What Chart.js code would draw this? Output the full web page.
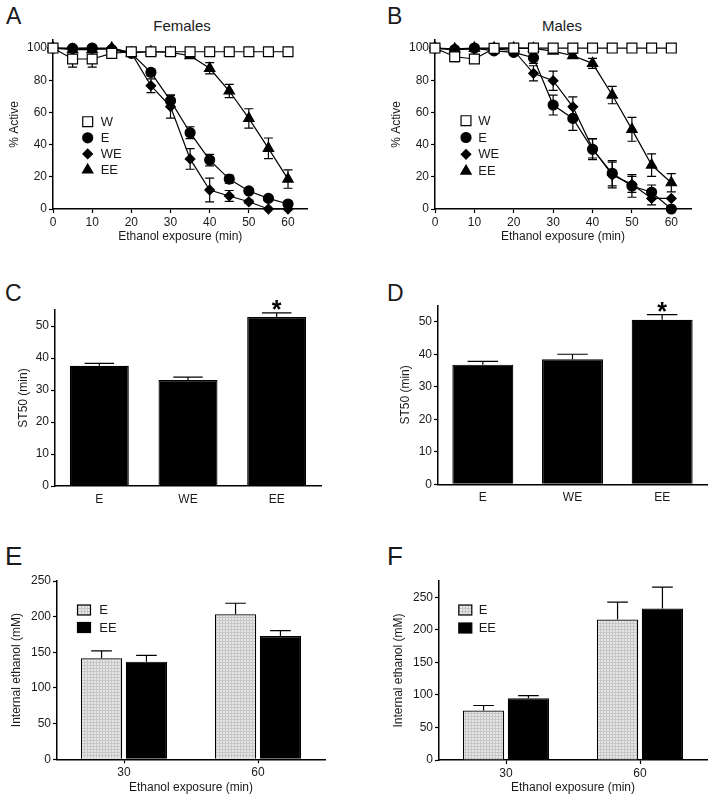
<!DOCTYPE html>
<html>
<head>
<meta charset="utf-8">
<script src="https://cdn.jsdelivr.net/npm/chart.js@4.4.1/dist/chart.umd.min.js"></script>
<style>
  body { margin: 0; background: #fff; width: 714px; height: 802px; position: relative; overflow: hidden;
         font-family: "Liberation Sans", Arial, sans-serif; color: #1a1a1a; }
  canvas { position: absolute; }
  .letter { position: absolute; font-size: 23px; line-height: 1; }
  .big { font-size: 26px; }
  .title { position: absolute; font-size: 15px; line-height: 1; width: 120px; text-align: center; }
</style>
</head>
<body>
<div class="letter" style="left:6px;top:5px">A</div>
<div class="letter" style="left:387px;top:5px">B</div>
<div class="letter" style="left:5px;top:282px">C</div>
<div class="letter" style="left:387px;top:282px">D</div>
<div class="letter big" style="left:5px;top:543px">E</div>
<div class="letter big" style="left:387px;top:543px">F</div>
<div class="title" style="left:122px;top:18px">Females</div>
<div class="title" style="left:502px;top:18px">Males</div>

<canvas id="chartA" width="357" height="265" style="left:0;top:0"></canvas>
<canvas id="chartB" width="357" height="265" style="left:357px;top:0"></canvas>
<canvas id="chartC" width="357" height="260" style="left:0;top:270px"></canvas>
<canvas id="chartD" width="357" height="260" style="left:357px;top:270px"></canvas>
<canvas id="chartE" width="357" height="272" style="left:0;top:530px"></canvas>
<canvas id="chartF" width="357" height="272" style="left:357px;top:530px"></canvas>

<script>
// time points (min)
const timePoints = [0, 5, 10, 15, 20, 25, 30, 35, 40, 45, 50, 55, 60];
const groupNames = ['W', 'E', 'WE', 'EE'];

// % active, females
const femaleW    = [100, 93.2, 93.2, 96.7, 97.7, 97.7, 97.7, 97.7, 97.7, 97.7, 97.7, 97.7, 97.7];
const femaleWErr = [0, 5, 5, 1, 0, 0, 0, 0, 0, 0, 0, 0, 0];
const femaleE    = [100, 99.8, 100, 99, 96.7, 84.9, 67.3, 47.4, 30.4, 18.6, 11.2, 6.6, 3.1];
const femaleEErr = [0, 0, 0, 1, 1, 2, 3.5, 3.7, 3.6, 2.5, 1.5, 1, 1];
const femaleWE   = [100, 99.8, 100, 100, 97, 76.6, 63.6, 31.1, 11.8, 8.1, 4.5, 0, 0];
const femaleWEErr= [0, 0, 0, 0, 1, 4.3, 7.2, 6.4, 7.4, 3.4, 1, 0, 0];
const femaleEE   = [100, 99, 99, 100, 97, 97.7, 97.3, 95.2, 87.4, 73.3, 56.3, 37.7, 18.6];
const femaleEEErr= [0, 0, 0, 0, 0, 0, 1, 1.5, 3.5, 4.1, 6, 6.4, 5.7];

// % active, males
const maleW     = [100, 94.6, 93.2, 99.8, 100, 100, 100, 100, 100, 100, 100, 100, 100];
const maleWErr  = [0, 3, 1, 0, 0, 0, 0, 0, 0, 0, 0, 0, 0];
const maleE     = [100, 99, 100, 98.3, 97.3, 94, 64.6, 56.3, 37.1, 22.2, 14.3, 10.4, 0];
const maleEErr  = [0, 0, 0, 1, 1, 3.5, 6.2, 7.5, 6.4, 7.8, 7, 4.5, 0];
const maleWE    = [100, 99, 99.5, 99.5, 98.5, 84.3, 79.7, 63.5, 37.7, 21.1, 15.3, 6.6, 6.6];
const maleWEErr = [0, 0, 0, 0, 1, 4.7, 6, 6.2, 6, 8, 5, 4, 0];
const maleEE    = [100, 99.5, 100, 100, 100, 99.8, 98.1, 95.2, 90.5, 70.8, 49.5, 27.3, 16.3];
const maleEEErr = [0, 0, 0, 0, 0, 0, 1, 1.5, 3.1, 5.4, 7.4, 7, 5.7];

// ST50 (min)
const st50Groups     = ['E', 'WE', 'EE'];
const st50Female     = [37.6, 33.1, 52.8];
const st50FemaleErr  = [0.7, 0.9, 1.3];
const st50Male       = [36.8, 38.5, 50.6];
const st50MaleErr    = [1.0, 1.5, 1.6];
const st50Signif     = ['', '', '*'];

// internal ethanol (mM)
const exposureTimes      = ['30', '60'];
const ethFemaleE         = [141.6, 203.4];
const ethFemaleEErr      = [10.3, 15.4];
const ethFemaleEE        = [136.9, 172.9];
const ethFemaleEEErr     = [8.9, 7.5];
const ethMaleE           = [76, 215.7];
const ethMaleEErr        = [7.7, 26.7];
const ethMaleEE          = [95, 232.7];
const ethMaleEEErr       = [4, 32.8];

Chart.defaults.font.family = '"Liberation Sans", Arial, sans-serif';
Chart.defaults.font.size = 12;
Chart.defaults.color = '#1a1a1a';
Chart.defaults.animation = false;

const INK = '#000';

// light grey fill with a fine grid, like the printed E bars
function stipple() {
  const c = document.createElement('canvas');
  c.width = 3; c.height = 3;
  const g = c.getContext('2d');
  g.fillStyle = '#e6e6e6'; g.fillRect(0, 0, 3, 3);
  g.fillStyle = '#c6c6c6'; g.fillRect(0, 0, 3, 1); g.fillRect(0, 0, 1, 3);
  return g.createPattern(c, 'repeat');
}
const greyFill = stipple();

// same geometry as chart.js point styles
function marker(ctx, style, r, x, y, fill) {
  ctx.beginPath();
  if (style === 'rect') {
    const s = Math.SQRT1_2 * r;
    ctx.rect(x - s, y - s, 2 * s, 2 * s);
  } else if (style === 'circle') {
    ctx.arc(x, y, r, 0, Math.PI * 2);
  } else if (style === 'rectRot') {
    ctx.moveTo(x - r, y); ctx.lineTo(x, y - r); ctx.lineTo(x + r, y); ctx.lineTo(x, y + r);
    ctx.closePath();
  } else if (style === 'triangle') {
    ctx.moveTo(x, y - r);
    ctx.lineTo(x + 0.866 * r, y + 0.5 * r);
    ctx.lineTo(x - 0.866 * r, y + 0.5 * r);
    ctx.closePath();
  }
  ctx.fillStyle = fill;
  ctx.fill();
  ctx.lineWidth = 1.2;
  ctx.strokeStyle = INK;
  ctx.stroke();
}

const errorBars = {
  id: 'errorBars',
  beforeDatasetsDraw(chart, args, opts) { if (opts.under) drawErrors(chart, opts); },
  afterDatasetsDraw(chart, args, opts) { if (!opts.under) drawErrors(chart, opts); }
};

function drawErrors(chart, opts) {
  if (!opts.errors) return;
  const ctx = chart.ctx, y = chart.scales.y;
  ctx.save();
  ctx.strokeStyle = INK;
  ctx.lineWidth = 1.2;
  opts.errors.forEach((errs, di) => {
    const meta = chart.getDatasetMeta(di);
    meta.data.forEach((el, i) => {
      const e = errs[i];
      if (!e) return;
      const raw = chart.data.datasets[di].data[i];
      const v = typeof raw === 'object' ? raw.y : raw;
      const top = y.getPixelForValue(v + e);
      const bot = opts.upOnly ? el.y : y.getPixelForValue(Math.max(v - e, 0));
      const half = opts.cap != null ? opts.cap : el.width * 0.25;
      ctx.beginPath();
      ctx.moveTo(el.x, bot); ctx.lineTo(el.x, top);
      ctx.moveTo(el.x - half, top); ctx.lineTo(el.x + half, top);
      if (!opts.upOnly) { ctx.moveTo(el.x - half, bot); ctx.lineTo(el.x + half, bot); }
      ctx.stroke();
    });
  });
  // significance marks
  if (opts.marks) {
    ctx.font = 'bold 25px "Liberation Sans", Arial, sans-serif';
    ctx.fillStyle = INK;
    ctx.textAlign = 'center';
    ctx.textBaseline = 'alphabetic';
    const meta = chart.getDatasetMeta(0);
    opts.marks.forEach((m, i) => {
      if (!m) return;
      const v = chart.data.datasets[0].data[i] + opts.errors[0][i];
      ctx.fillText(m, meta.data[i].x, y.getPixelForValue(v) + 5);
    });
  }
  ctx.restore();
}

const insetLegend = {
  id: 'insetLegend',
  afterDraw(chart, args, opts) {
    if (!opts.x) return;
    const ctx = chart.ctx;
    ctx.save();
    chart.data.datasets.forEach((ds, i) => {
      const cy = opts.y + i * opts.step;
      if (opts.swatch) {
        ctx.fillStyle = ds.backgroundColor;
        ctx.fillRect(opts.x - 6.5, cy - 5, 13, 10);
        ctx.strokeStyle = INK; ctx.lineWidth = 1.2;
        ctx.strokeRect(opts.x - 6.5, cy - 5, 13, 10);
      } else {
        marker(ctx, ds.pointStyle, ds.pointRadius, opts.x, cy, ds.pointBackgroundColor);
      }
      ctx.fillStyle = '#1a1a1a';
      ctx.font = '13px "Liberation Sans", Arial, sans-serif';
      ctx.textAlign = 'left';
      ctx.textBaseline = 'middle';
      ctx.fillText(ds.label, opts.textX, cy + 0.5);
    });
    ctx.restore();
  }
};

function axisBase(width, height) {
  return {
    grid: { display: true, drawOnChartArea: false, drawTicks: true, tickLength: 4, tickColor: INK, tickWidth: 1.2 },
    border: { display: true, color: INK, width: 1.5 },
    afterFit(s) { if (width != null) s.width = width; if (height != null) s.height = height; }
  };
}

const pointLook = [
  { pointStyle: 'rect', pointRadius: 7, fill: '#fff' },
  { pointStyle: 'circle', pointRadius: 5, fill: INK },
  { pointStyle: 'rectRot', pointRadius: 4.8, fill: INK },
  { pointStyle: 'triangle', pointRadius: 6, fill: INK }
];

function linePanel(id, series, errs, g) {
  const datasets = series.map((vals, i) => ({
    label: groupNames[i],
    data: timePoints.map((t, k) => ({ x: t, y: vals[k] })),
    borderColor: INK,
    borderWidth: 1.2,
    pointStyle: pointLook[i].pointStyle,
    pointRadius: pointLook[i].pointRadius,
    pointBackgroundColor: pointLook[i].fill,
    pointBorderColor: INK,
    pointBorderWidth: 1.2,
    tension: 0,
    clip: false
  }));
  new Chart(document.getElementById(id), {
    type: 'line',
    data: { datasets },
    plugins: [errorBars, insetLegend],
    options: {
      responsive: false,
      devicePixelRatio: 1,
      layout: { padding: { left: 0, top: g.padTop, right: g.padRight, bottom: 0 } },
      plugins: {
        legend: { display: false },
        tooltip: { enabled: false },
        errorBars: { errors: errs, cap: 4.5, under: true },
        insetLegend: g.legend
      },
      scales: {
        x: Object.assign(axisBase(null, g.xH), {
          type: 'linear', min: 0, max: 65,
          ticks: { stepSize: 10, includeBounds: false, padding: 2, font: { size: 12 } },
          title: { display: true, text: 'Ethanol exposure (min)', font: { size: 12 }, padding: { top: 0, bottom: g.xTitlePad } }
        }),
        y: Object.assign(axisBase(g.yW, null), {
          min: 0, max: 105,
          ticks: { stepSize: 20, includeBounds: false, padding: 2, font: { size: 12 } },
          title: { display: true, text: '% Active', font: { size: 12 }, padding: { top: g.yTitlePad, bottom: 0 } }
        })
      }
    }
  });
}

function barPanel(id, labels, sets, g) {
  new Chart(document.getElementById(id), {
    type: 'bar',
    data: {
      labels,
      datasets: sets.map(s => ({
        label: s.label,
        data: s.data,
        backgroundColor: s.fill,
        borderColor: INK,
        borderWidth: 1.2,
        borderSkipped: 'start',
        categoryPercentage: g.catPct,
        barPercentage: g.barPct
      }))
    },
    plugins: [errorBars, insetLegend],
    options: {
      responsive: false,
      devicePixelRatio: 1,
      layout: { padding: { left: 0, top: g.padTop, right: g.padRight, bottom: 0 } },
      plugins: {
        legend: { display: false },
        tooltip: { enabled: false },
        errorBars: { errors: sets.map(s => s.err), upOnly: true, under: false, marks: g.marks },
        insetLegend: g.legend || {}
      },
      scales: {
        x: Object.assign(axisBase(null, g.xH), {
          grid: { display: true, drawOnChartArea: false, drawTicks: g.xTicks, tickLength: 4, tickColor: INK, tickWidth: 1.2, offset: false },
          ticks: { padding: g.xTicks ? 2 : 6, font: { size: 12 } },
          title: { display: !!g.xTitle, text: g.xTitle || '', font: { size: 12 }, padding: { top: 0, bottom: g.xTitlePad || 0 } }
        }),
        y: Object.assign(axisBase(g.yW, null), {
          min: 0, max: g.yMax,
          ticks: { stepSize: g.yStep, includeBounds: false, padding: 2, font: { size: 12 } },
          title: { display: true, text: g.yTitle, font: { size: 12 }, padding: { top: g.yTitlePad, bottom: 0 } }
        })
      }
    }
  });
}

linePanel('chartA', [femaleW, femaleE, femaleWE, femaleEE], [femaleWErr, femaleEErr, femaleWEErr, femaleEEErr], {
  padTop: 40, padRight: 49.4, yW: 53, xH: 56, yTitlePad: 7.8, xTitlePad: 20.8,
  legend: { x: 87.7, textX: 100.7, y: 121.7, step: 16.1 }
});

linePanel('chartB', [maleW, maleE, maleWE, maleEE], [maleWErr, maleEErr, maleWEErr, maleEEErr], {
  padTop: 40, padRight: 23, yW: 78, xH: 56, yTitlePad: 32.8, xTitlePad: 20.8,
  legend: { x: 109, textX: 121.3, y: 120.7, step: 16.8 }
});

barPanel('chartC', st50Groups, [{ label: 'ST50', data: st50Female, err: st50FemaleErr, fill: INK }], {
  padTop: 40, padRight: 36, yW: 55, xH: 44, yMax: 55, yStep: 10, yTitle: 'ST50 (min)', yTitlePad: 16.8,
  catPct: 0.665, barPct: 1, xTicks: false, marks: st50Signif
});

barPanel('chartD', st50Groups, [{ label: 'ST50', data: st50Male, err: st50MaleErr, fill: INK }], {
  padTop: 35.5, padRight: 7, yW: 81, xH: 45.7, yMax: 55, yStep: 10, yTitle: 'ST50 (min)', yTitlePad: 41.8,
  catPct: 0.68, barPct: 1, xTicks: false, marks: st50Signif
});

barPanel('chartE', exposureTimes, [
  { label: 'E', data: ethFemaleE, err: ethFemaleEErr, fill: greyFill },
  { label: 'EE', data: ethFemaleEE, err: ethFemaleEEErr, fill: INK }
], {
  padTop: 51, padRight: 32, yW: 57, xH: 42.7, yMax: 250, yStep: 50, yTitle: 'Internal ethanol (mM)', yTitlePad: 9.8,
  catPct: 0.67, barPct: 0.92, xTicks: true, xTitle: 'Ethanol exposure (min)', xTitlePad: 6.8,
  legend: { x: 84, textX: 99.3, y: 80, step: 17.5, swatch: true }
});

barPanel('chartF', exposureTimes, [
  { label: 'E', data: ethMaleE, err: ethMaleEErr, fill: greyFill },
  { label: 'EE', data: ethMaleEE, err: ethMaleEEErr, fill: INK }
], {
  padTop: 51, padRight: 7, yW: 82, xH: 42, yMax: 275, yStep: 50, yTitle: 'Internal ethanol (mM)', yTitlePad: 34.8,
  catPct: 0.67, barPct: 0.92, xTicks: true, xTitle: 'Ethanol exposure (min)', xTitlePad: 6.8,
  legend: { x: 108.3, textX: 121.7, y: 80, step: 18, swatch: true }
});
</script>
</body>
</html>
